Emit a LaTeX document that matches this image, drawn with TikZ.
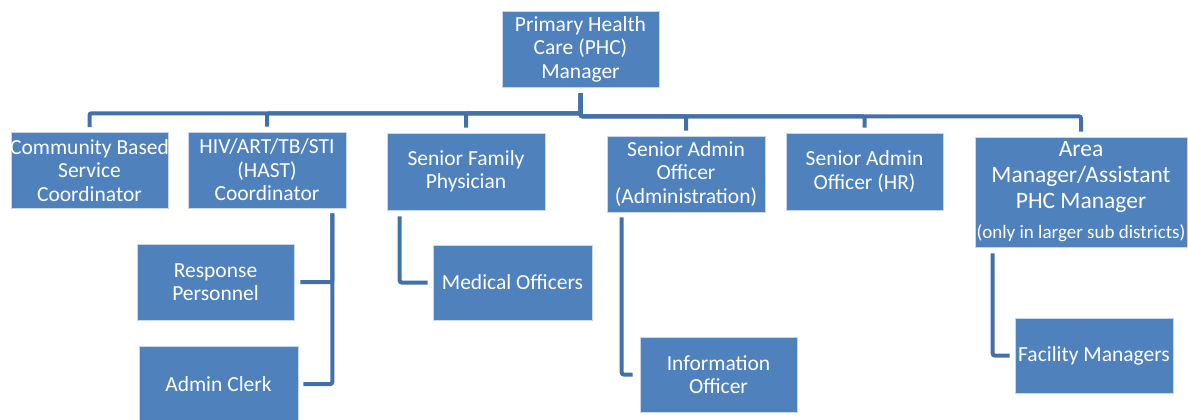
\documentclass[tikz,border=0pt]{standalone}
\usepackage{fontspec}
\setmainfont{Carlito}
\definecolor{boxblue}{HTML}{4F81BD}
\definecolor{boxedge}{HTML}{C9D6EA}
\definecolor{linkblue}{HTML}{4470AA}
\newcommand\wideline[1]{\makebox[0pt]{#1}}
\begin{document}
\begin{tikzpicture}[x=1pt,y=-1pt,
  box/.style={rectangle, fill=boxblue, draw=boxedge, line width=0.6pt, text=white,
    align=center, inner sep=0pt, minimum width=157pt, minimum height=76pt,
    font=\fontsize{21.5}{23.5}\selectfont},
  link/.style={draw=linkblue, line width=4pt, rounded corners=2pt}]
\useasboundingbox (0,0) rectangle (1188,420);
% top
\node[box] (phc) at (580.5,49) {Primary Health\\Care (PHC)\\Manager};
% second level
\node[box] (cbs) at (89.5,170.5) {\wideline{Community Based}\\Service\\Coordinator};
\node[box, minimum width=158pt] (hast) at (267,170) {HIV/ART/TB/STI\\(HAST)\\Coordinator};
\node[box, minimum width=158pt, minimum height=77pt] (sfp) at (466,171.5) {Senior Family\\Physician};
\node[box, minimum width=158pt] (saoa) at (686,174) {Senior Admin\\Officer\\(Administration)};
\node[box, minimum height=77pt] (saohr) at (864.5,171.5) {Senior Admin\\Officer (HR)};
\node[box, minimum width=212pt, minimum height=110pt, font=\fontsize{23.5}{26}\selectfont] (area) at (1081,192)
  {Area\\\wideline{Manager/Assistant}\\PHC Manager\\[4pt]{\fontsize{19}{21}\selectfont\wideline{(only in larger sub districts)}}};
% third level
\node[box] (resp) at (215.5,282) {Response\\Personnel};
\node[box, minimum width=159pt] (clerk) at (218.5,384) {Admin Clerk};
\node[box, minimum width=159pt, minimum height=75pt] (med) at (512.5,282.5) {Medical Officers};
\node[box, minimum height=75pt] (info) at (718.5,374.5) {Information\\Officer};
\node[box, minimum width=158pt, minimum height=75pt] (fac) at (1094,355.5) {Facility Managers};
% connectors from the manager
\draw[link, shorten <=6pt, shorten >=5pt] (phc.south) -- ++(0,26) -| (cbs.north);
\draw[link, shorten <=6pt, shorten >=5pt] (phc.south) -- ++(0,26) -| (hast.north);
\draw[link, shorten <=6pt, shorten >=5pt] (phc.south) -- ++(0,26) -| (sfp.north);
\draw[link, shorten <=6pt, shorten >=5pt] (phc.south) -- ++(0,29) -| (saoa.north);
\draw[link, shorten <=6pt, shorten >=5pt] (phc.south) -- ++(0,29) -| (saohr.north);
\draw[link, shorten <=6pt, shorten >=5pt] (phc.south) -- ++(0,29) -| (area.north);
% sub connectors
\draw[link, shorten <=5pt, shorten >=6pt] ([xshift=-14pt]hast.south east) |- (resp.east);
\draw[link, shorten <=5pt, shorten >=5pt] ([xshift=-14pt]hast.south east) |- (clerk.east);
\draw[link, shorten <=6pt, shorten >=5pt] ([xshift=13pt]sfp.south west) |- (med.west);
\draw[link, shorten <=5pt, shorten >=7pt] ([xshift=15pt]saoa.south west) |- (info.west);
\draw[link, shorten <=6pt, shorten >=5pt] ([xshift=18pt]area.south west) |- (fac.west);
\end{tikzpicture}
\end{document}
